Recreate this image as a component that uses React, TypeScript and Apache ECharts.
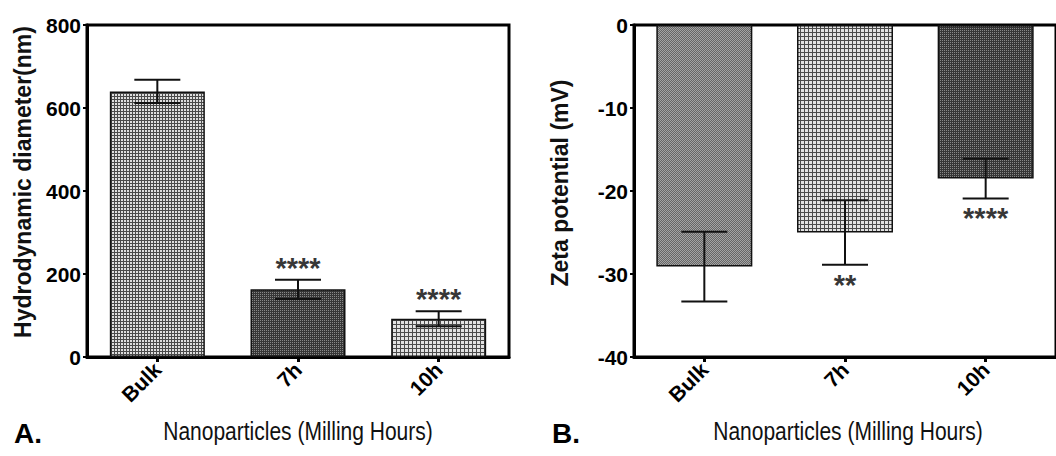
import React, { useEffect, useRef } from "react";
import * as echarts from "echarts";

// ---- data ----
const categories = ["Bulk", "7h", "10h"];
const diameterMean = [640, 163, 92];
const diameterErr = [28, 23, 18];
const diameterStars = ["", "****", "****"];
const zetaMean = [-29.1, -25.0, -18.5];
const zetaErr = [4.2, 3.9, 2.4];
const zetaStars = ["", "**", "****"];
const diameterTickValues = [0, 200, 400, 600, 800];
const zetaTickValues = [-40, -30, -20, -10, 0];

const FONT = "'Liberation Sans', Arial, Helvetica, sans-serif";

type Cell = [number, number, number, number, string];
function makePattern(size: number, bg: string, cells: Cell[]) {
  const c = document.createElement("canvas");
  c.width = size;
  c.height = size;
  const ctx = c.getContext("2d")!;
  ctx.fillStyle = bg;
  ctx.fillRect(0, 0, size, size);
  cells.forEach(([x, y, w, h, col]) => {
    ctx.fillStyle = col;
    ctx.fillRect(x, y, w, h);
  });
  return {
    image: c.toDataURL(),
    repeat: "repeat",
    imageWidth: size,
    imageHeight: size,
  } as any;
}

function errorRenderItem(params: any, api: any) {
  const i = api.value(0);
  const m = api.value(1);
  const e = api.value(2);
  const hi = api.coord([i, m + e]);
  const lo = api.coord([i, m - e]);
  const half = 23;
  const style = { stroke: "#111", lineWidth: 2 };
  return {
    type: "group",
    children: [
      { type: "line", shape: { x1: hi[0], y1: hi[1], x2: lo[0], y2: lo[1] }, style },
      { type: "line", shape: { x1: hi[0] - half, y1: hi[1], x2: hi[0] + half, y2: hi[1] }, style },
      { type: "line", shape: { x1: lo[0] - half, y1: lo[1], x2: lo[0] + half, y2: lo[1] }, style },
    ],
  };
}

export default function App() {
  const ref = useRef<HTMLDivElement>(null);

  useEffect(() => {
    if (!ref.current) return;
    const chart = echarts.init(ref.current, undefined, { renderer: "svg" });

    const light = makePattern(3, "#4a4a4a", [[1, 1, 2, 2, "#dedede"]]);
    const lightCoarse = makePattern(4, "#4a4a4a", [[1, 1, 3, 3, "#e2e2e2"]]);
    const dark = makePattern(2, "#363636", [[0, 0, 1, 1, "#888888"]]);
    const medium = makePattern(2, "#666666", [
      [0, 0, 1, 1, "#a4a4a4"],
      [1, 1, 1, 1, "#a4a4a4"],
    ]);
    const fillsA = [light, dark, lightCoarse];
    const fillsB = [medium, lightCoarse, dark];

    const axisLineStyle = { color: "#000", width: 3 };
    const xAxisBase = (gridIndex: number) => ({
      gridIndex,
      type: "category",
      data: categories,
      position: "bottom",
      axisLine: { show: true, onZero: false, lineStyle: axisLineStyle },
      axisTick: { show: true, alignWithLabel: true, length: 5, lineStyle: { color: "#000", width: 3 } },
      axisLabel: {
        rotate: 45,
        margin: 9,
        fontSize: 21,
        fontWeight: "bold",
        color: "#000",
        fontFamily: FONT,
      },
      splitLine: { show: false },
    });
    const yAxisBase = (gridIndex: number, ticks: number[]) => ({
      gridIndex,
      type: "value",
      min: ticks[0],
      max: ticks[ticks.length - 1],
      interval: ticks[1] - ticks[0],
      splitLine: { show: false },
      axisLine: { show: true, lineStyle: axisLineStyle },
      axisTick: { show: true, length: 4, lineStyle: { color: "#000", width: 2 } },
      axisLabel: { margin: 6, fontSize: 21, fontWeight: "bold", color: "#000", fontFamily: FONT },
    });

    const barSeries = (idx: number, means: number[], fills: any[], width: number) => ({
      type: "bar",
      xAxisIndex: idx,
      yAxisIndex: idx,
      barWidth: width,
      data: means.map((v, i) => ({ value: v, itemStyle: { color: fills[i] } })),
      itemStyle: { borderColor: "#111", borderWidth: 1.5 },
      z: 2,
    });
    const errSeries = (idx: number, means: number[], errs: number[]) => ({
      type: "custom",
      xAxisIndex: idx,
      yAxisIndex: idx,
      renderItem: errorRenderItem,
      data: means.map((m, i) => [i, m, errs[i]]),
      z: 3,
    });
    const starSeries = (
      idx: number,
      means: number[],
      errs: number[],
      stars: string[],
      up: boolean,
      distance: number
    ) => ({
      type: "scatter",
      xAxisIndex: idx,
      yAxisIndex: idx,
      symbol: "circle",
      symbolSize: 1,
      itemStyle: { color: "rgba(0,0,0,0)" },
      data: means.map((m, i) => [i, up ? m + errs[i] : m - errs[i]]),
      label: {
        show: true,
        position: up ? "top" : "bottom",
        distance,
        formatter: (p: any) => stars[p.dataIndex],
        fontSize: 29,
        fontWeight: "bold",
        color: "#000",
        fontFamily: FONT,
      },
      z: 4,
    });

    const option: any = {
      animation: false,
      backgroundColor: "#ffffff",
      textStyle: { fontFamily: FONT },
      grid: [
        { left: 87, top: 25, width: 422, height: 332, show: true, borderColor: "#000", borderWidth: 3 },
        { left: 634, top: 25, width: 430, height: 332, show: true, borderColor: "#000", borderWidth: 3 },
      ],
      xAxis: [xAxisBase(0), xAxisBase(1)],
      yAxis: [yAxisBase(0, diameterTickValues), yAxisBase(1, zetaTickValues)],
      series: [
        barSeries(0, diameterMean, fillsA, 95),
        errSeries(0, diameterMean, diameterErr),
        starSeries(0, diameterMean, diameterErr, diameterStars, true, -3),
        barSeries(1, zetaMean, fillsB, 96),
        errSeries(1, zetaMean, zetaErr),
        starSeries(1, zetaMean, zetaErr, zetaStars, false, 5),
      ],
      graphic: [
        {
          type: "text",
          x: 23,
          y: 182,
          rotation: Math.PI / 2,
          style: {
            text: "Hydrodynamic diameter(nm)",
            font: `bold 23px ${FONT}`,
            fill: "#111",
            align: "center",
            verticalAlign: "middle",
          },
        },
        {
          type: "text",
          x: 560,
          y: 183,
          rotation: Math.PI / 2,
          style: {
            text: "Zeta potential (mV)",
            font: `bold 23px ${FONT}`,
            fill: "#111",
            align: "center",
            verticalAlign: "middle",
          },
        },
        {
          type: "text",
          x: 298,
          y: 431,
          scaleY: 1.25,
          style: {
            text: "Nanoparticles (Milling Hours)",
            font: `21px ${FONT}`,
            fill: "#111",
            align: "center",
            verticalAlign: "middle",
          },
        },
        {
          type: "text",
          x: 848,
          y: 431,
          scaleY: 1.25,
          style: {
            text: "Nanoparticles (Milling Hours)",
            font: `21px ${FONT}`,
            fill: "#111",
            align: "center",
            verticalAlign: "middle",
          },
        },
        {
          type: "text",
          x: 14,
          y: 433,
          style: { text: "A.", font: `bold 28px ${FONT}`, fill: "#000", align: "left", verticalAlign: "middle" },
        },
        {
          type: "text",
          x: 552,
          y: 433,
          style: { text: "B.", font: `bold 28px ${FONT}`, fill: "#000", align: "left", verticalAlign: "middle" },
        },
      ],
    };

    chart.setOption(option);
    return () => chart.dispose();
  }, []);

  return (
    <div
      ref={ref}
      style={{ position: "absolute", left: 0, top: 0, width: 1056, height: 456, background: "#fff" }}
    />
  );
}
